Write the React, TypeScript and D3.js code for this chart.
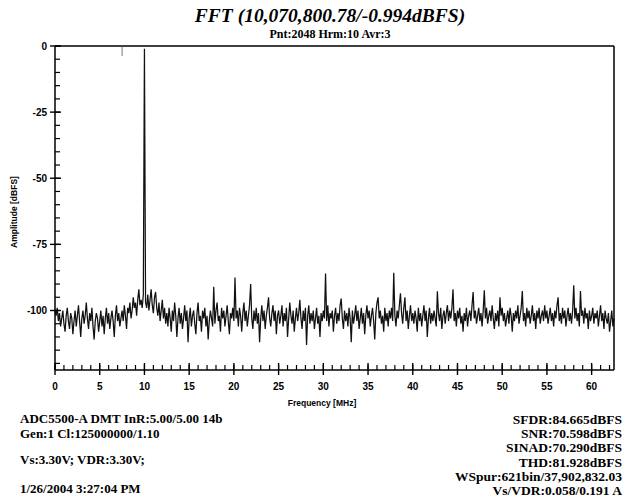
import React from "react";
import * as d3 from "d3";

const titleText = "FFT (10,070,800.78/-0.994dBFS)";
const subtitleText = "Pnt:2048 Hrm:10 Avr:3";
const xLabel = "Frequency [MHz]";
const yLabel = "Amplitude [dBFS]";
const xMajorTicks = [0, 5, 10, 15, 20, 25, 30, 35, 40, 45, 50, 55, 60];
const yMajorTicks = [0, -25, -50, -75, -100];
const freqStepMHz = 0.125;
const leftNotes = [
  "ADC5500-A DMT InR:5.00/5.00 14b",
  "Gen:1 Cl:125000000/1.10",
  "Vs:3.30V; VDR:3.30V;",
  "1/26/2004 3:27:04 PM",
];
const rightNotes = [
  "SFDR:84.665dBFS",
  "SNR:70.598dBFS",
  "SINAD:70.290dBFS",
  "THD:81.928dBFS",
  "WSpur:621bin/37,902,832.03",
  "Vs/VDR:0.058/0.191 A",
];

const amplitudeDb = [
  -100,-102,-99,-104,-101,-106,-103,-100,-105,-108,-102,-99,-104,-107,-101,-103,-109,-104,-100,-106,
  -102,-98,-104,-110,-103,-100,-105,-102,-97,-103,-107,-101,-104,-99,-106,-111,-104,-101,-103,-108,
  -104,-100,-106,-102,-109,-103,-99,-105,-101,-107,-103,-100,-104,-110,-102,-98,-104,-101,-106,-103,
  -100,-104,-98,-102,-107,-99,-101,-97,-103,-100,-95,-99,-97,-102,-96,-92,-98,-96,-99,-94,
  -0.994,-97,-99,-94,-100,-96,-92,-98,-101,-95,-93,-99,-102,-97,-104,-100,-96,-103,-99,-105,
  -101,-106,-99,-103,-108,-100,-104,-97,-102,-110,-103,-99,-105,-101,-107,-103,-98,-104,-100,-112,
  -103,-99,-106,-102,-100,-105,-109,-101,-97,-104,-102,-108,-100,-103,-99,-106,-102,-111,-104,-100,
  -103,-106,-91,-105,-100,-97,-104,-102,-108,-99,-103,-100,-106,-102,-98,-104,-109,-101,-103,-99,
  -104,-87.5,-103,-100,-106,-99,-102,-108,-101,-97,-104,-100,-106,-102,-98,-90,-103,-107,-100,-104,
  -99,-105,-101,-112,-103,-98,-104,-100,-107,-102,-99,-95,-103,-106,-101,-98,-104,-100,-109,-102,
  -100,-105,-102,-98,-106,-101,-104,-99,-110,-103,-97,-102,-105,-100,-108,-103,-99,-104,-101,-96,
  -103,-107,-100,-104,-99,-113,-102,-98,-105,-101,-104,-100,-107,-103,-99,-105,-102,-110,-101,-104,
  -100,-103,-86,-104,-98,-106,-101,-103,-100,-108,-102,-99,-105,-101,-104,-98,-95.5,-103,-107,-100,
  -104,-101,-106,-99,-103,-112,-100,-105,-102,-98,-104,-100,-107,-103,-99,-105,-101,-109,-102,-98,
  -103,-100,-106,-102,-99,-104,-111,-101,-97,-95,-103,-100,-105,-102,-108,-99,-104,-101,-106,-100,
  -103,-99,-104,-85.7,-102,-106,-100,-103,-98,-93.5,-101,-105,-99,-95,-104,-100,-107,-102,-98,-104,
  -101,-105,-100,-103,-108,-99,-104,-101,-106,-102,-98,-104,-100,-110,-103,-99,-105,-101,-104,-100,
  -103,-106,-92.7,-101,-104,-99,-107,-102,-100,-105,-101,-98,-104,-100,-103,-99,-92,-104,-101,-106,
  -100,-103,-99,-105,-102,-108,-101,-104,-99,-106,-102,-100,-104,-98,-93,-103,-100,-105,-102,-99,
  -104,-101,-106,-100,-92.4,-103,-99,-105,-102,-100,-104,-98,-103,-107,-101,-104,-100,-106,-95,-102,
  -99,-104,-101,-106,-103,-100,-105,-99,-102,-108,-101,-104,-100,-103,-98,-105,-102,-99,-92.6,-104,
  -101,-106,-99,-103,-100,-105,-102,-98,-104,-101,-107,-100,-103,-99,-105,-102,-100,-104,-98,-103,
  -100,-105,-102,-99,-104,-101,-106,-100,-103,-98,-95,-104,-101,-105,-99,-103,-100,-106,-102,-99,
  -104,-101,-105,-100,-90.5,-103,-99,-104,-101,-106,-92.6,-102,-100,-105,-99,-103,-101,-107,-100,-104,
  -102,-99,-105,-101,-103,-100,-106,-102,-98,-104,-101,-107,-100,-103,-105,-101,-108,-104,-100,-106,
  -103,
];

const W = 625;
const H = 501;
const plot = { left: 55, right: 614, top: 46, bottom: 370 };
const leftNoteY = [423, 438, 464, 493];

export default function App() {
  const x = d3.scaleLinear().domain([0, 62.5]).range([plot.left, plot.right]);
  const y = d3.scaleLinear().domain([-122.5, 0]).range([plot.bottom, plot.top]);
  const line = d3
    .line<number>()
    .x((_, i) => x(i * freqStepMHz))
    .y((d) => y(d));
  const xMinor = d3.range(0, 63, 1);
  const yMinor = d3.range(0, -123, -5);
  const tickFont = "'Liberation Sans', Arial, sans-serif";
  const serif = "'Liberation Serif', 'Times New Roman', serif";

  return (
    <svg width={W} height={H} style={{ position: "absolute", left: 0, top: 0, background: "#fff" }}>
      <rect x={0} y={0} width={W} height={H} fill="#fff" />
      <text x={330} y={22} textAnchor="middle" fontFamily={serif} fontWeight="bold" fontStyle="italic" fontSize={19.5}>
        {titleText}
      </text>
      <text x={330} y={38} textAnchor="middle" fontFamily={serif} fontWeight="bold" fontSize={12}>
        {subtitleText}
      </text>

      <path d={line(amplitudeDb) || ""} fill="none" stroke="#111" strokeWidth={1.25} strokeLinejoin="miter" />

      {/* frame */}
      <line x1={plot.left} x2={plot.right} y1={plot.top} y2={plot.top} stroke="#000" strokeWidth={1.5} />
      <line x1={plot.right} x2={plot.right} y1={plot.top} y2={plot.bottom} stroke="#000" strokeWidth={1.5} />
      <line x1={plot.left} x2={plot.left} y1={plot.top} y2={plot.bottom} stroke="#000" strokeWidth={1.5} />
      <line x1={plot.left} x2={plot.right} y1={plot.bottom} y2={plot.bottom} stroke="#000" strokeWidth={1.5} />
      <line x1={x(7.5)} x2={x(7.5)} y1={plot.top} y2={plot.top + 10} stroke="#555" strokeWidth={0.8} />

      {/* y ticks */}
      {yMinor.map((v) => (
        <line key={"ym" + v} x1={plot.left} x2={plot.left + 5} y1={y(v)} y2={y(v)} stroke="#000" strokeWidth={1.2} />
      ))}
      {yMajorTicks.map((v) => (
        <g key={"yM" + v}>
          <line x1={plot.left - 5} x2={plot.left + 6} y1={y(v)} y2={y(v)} stroke="#000" strokeWidth={1.4} />
          <text x={plot.left - 8} y={y(v) + 3.5} textAnchor="end" fontFamily={tickFont} fontWeight="bold" fontSize={10}>
            {v}
          </text>
        </g>
      ))}

      {/* x ticks */}
      {xMinor.map((v) => (
        <line key={"xm" + v} x1={x(v)} x2={x(v)} y1={plot.bottom} y2={plot.bottom - 5} stroke="#000" strokeWidth={1.2} />
      ))}
      {xMajorTicks.map((v) => (
        <g key={"xM" + v}>
          <line x1={x(v)} x2={x(v)} y1={plot.bottom + 5} y2={plot.bottom - 7} stroke="#000" strokeWidth={1.4} />
          <text x={x(v)} y={plot.bottom + 20} textAnchor="middle" fontFamily={tickFont} fontWeight="bold" fontSize={10}>
            {v}
          </text>
        </g>
      ))}

      <text x={322} y={406} textAnchor="middle" fontFamily={tickFont} fontWeight="bold" fontSize={8.5}>
        {xLabel}
      </text>
      <text
        transform={`translate(17, 212) rotate(-90)`}
        textAnchor="middle"
        fontFamily={tickFont}
        fontWeight="bold"
        fontSize={8.5}
      >
        {yLabel}
      </text>

      {leftNotes.map((t, i) => (
        <text key={"l" + i} x={20} y={leftNoteY[i]} fontFamily={serif} fontWeight="bold" fontSize={13}>
          {t}
        </text>
      ))}
      {rightNotes.map((t, i) => (
        <text key={"r" + i} x={622} y={424 + i * 14.2} textAnchor="end" fontFamily={serif} fontWeight="bold" fontSize={13.5}>
          {t}
        </text>
      ))}
    </svg>
  );
}
